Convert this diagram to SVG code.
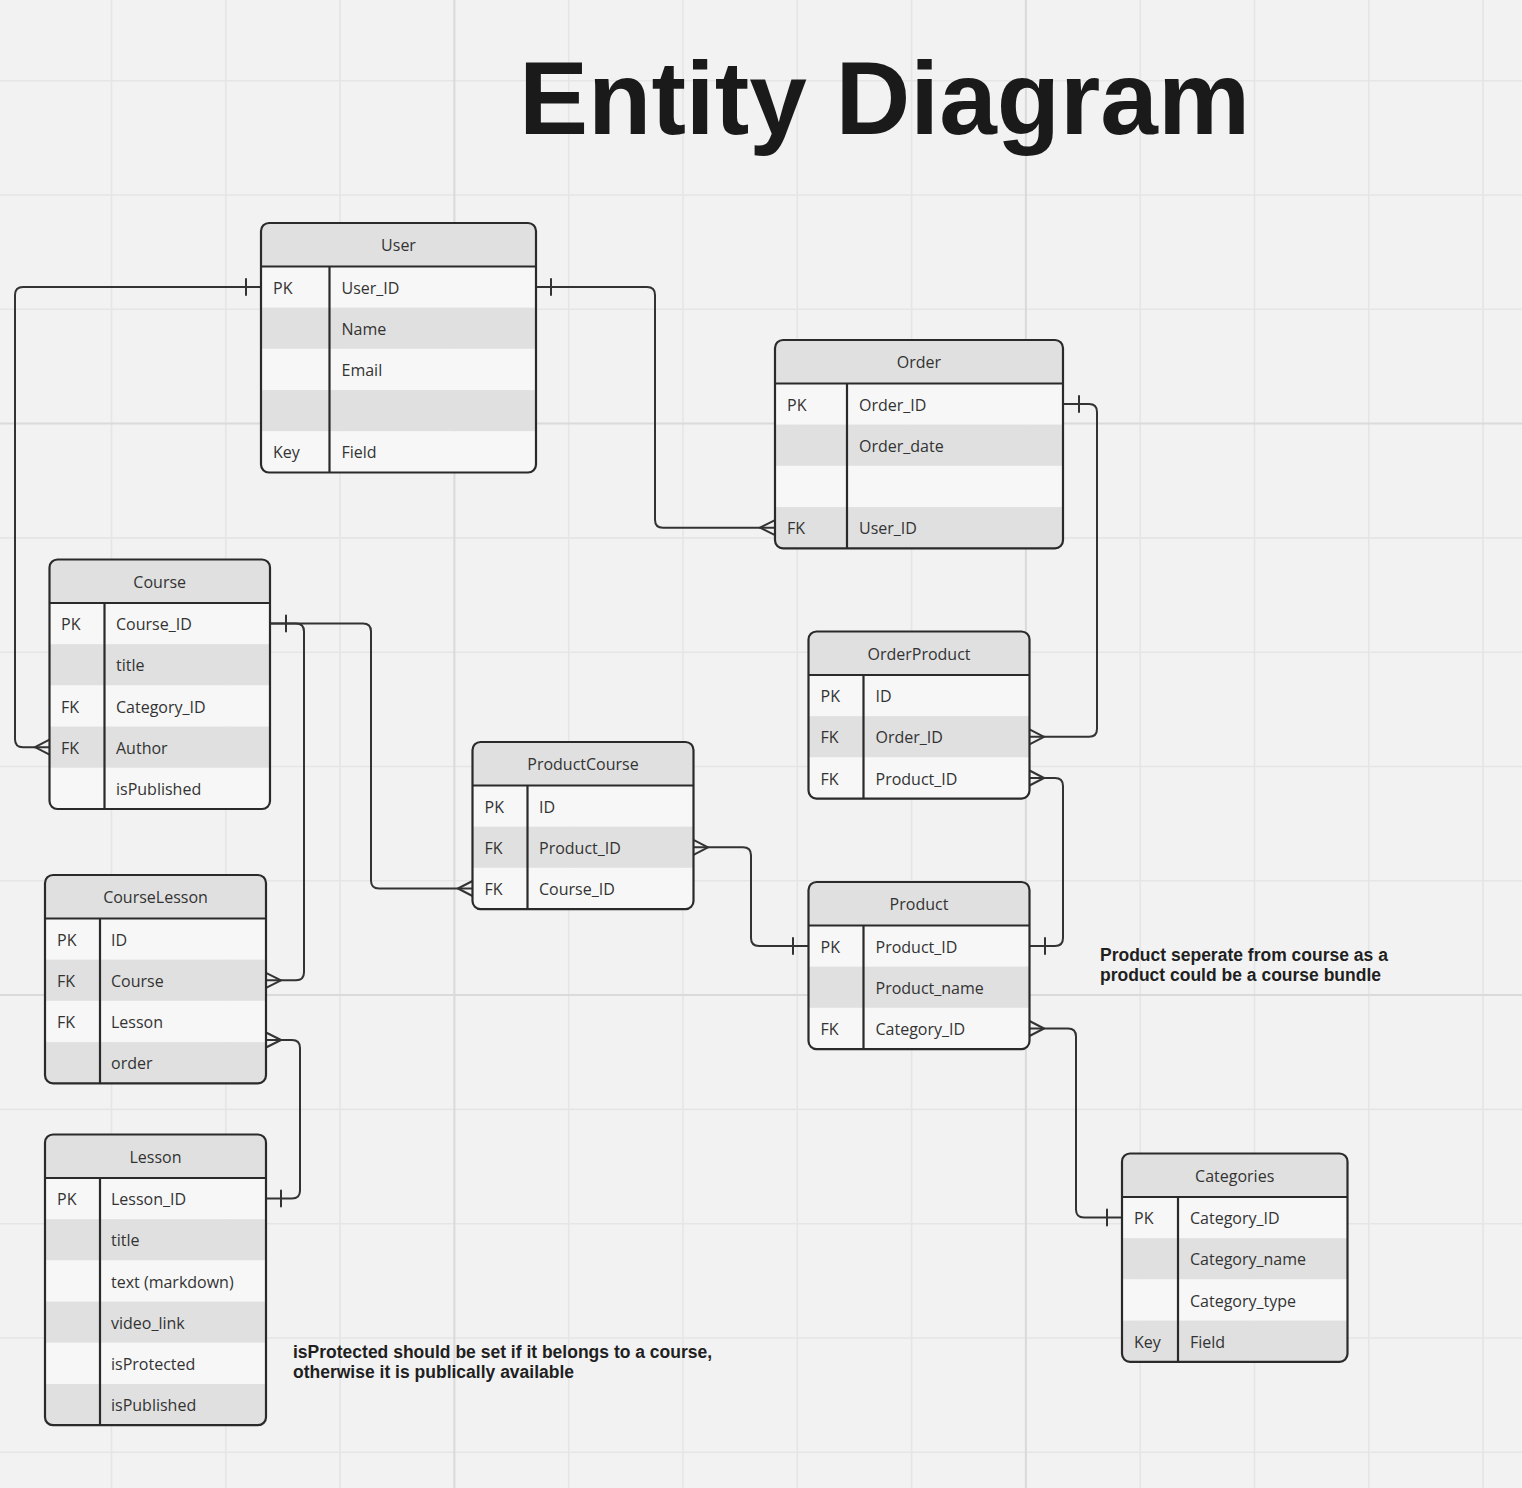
<svg xmlns="http://www.w3.org/2000/svg" width="1522" height="1488" viewBox="0 0 1522 1488">
<style>
.bg{fill:#f2f2f2}
.gmin{stroke:#e5e5e5;stroke-width:1.6;fill:none}
.gmaj{stroke:#dadada;stroke-width:2;fill:none}
.hd{fill:#e0e0e0}
.lt{fill:#f7f7f7}
.dk{fill:#e0e0e0}
.ol{fill:none;stroke:#2a2a2a;stroke-width:2.2}
.ln{stroke:#2a2a2a;stroke-width:2.2;fill:none}
.t{font-family:"Open Sans","Noto Sans","Liberation Sans",sans-serif;font-size:16px;fill:#333333;transform:translateY(1px)}
.th{font-family:"Open Sans","Noto Sans","Liberation Sans",sans-serif;font-size:16px;fill:#333333;text-anchor:middle;transform:translateY(1px)}
.title{font-family:"Liberation Sans",Arial,sans-serif;font-weight:bold;font-size:103.6px;fill:#1a1a1a}
.note{font-family:"Liberation Sans",Arial,sans-serif;font-weight:bold;font-size:17.5px;fill:#1f1f1f}
.c{stroke:#333333;stroke-width:2;fill:none;stroke-linecap:round;stroke-linejoin:round}
</style>
<defs>
<clipPath id="cUser"><rect x="261" y="223" width="275" height="249.5" rx="8"/></clipPath>
<clipPath id="cOrder"><rect x="775" y="340" width="288" height="208.3" rx="8"/></clipPath>
<clipPath id="cCourse"><rect x="49.5" y="559.5" width="220.5" height="249.5" rx="8"/></clipPath>
<clipPath id="cCL"><rect x="45" y="875" width="221" height="208.3" rx="8"/></clipPath>
<clipPath id="cLesson"><rect x="45" y="1134.5" width="221" height="290.7" rx="8"/></clipPath>
<clipPath id="cPC"><rect x="472.5" y="742" width="221" height="167.1" rx="8"/></clipPath>
<clipPath id="cOP"><rect x="808.5" y="631.5" width="221" height="167.1" rx="8"/></clipPath>
<clipPath id="cProd"><rect x="808.5" y="882" width="221" height="167.1" rx="8"/></clipPath>
<clipPath id="cCat"><rect x="1122" y="1153.5" width="225.5" height="208.3" rx="8"/></clipPath>
</defs>

<g id="background">
<rect class="bg" x="0" y="0" width="1522" height="1488"/>
<path class="gmin" d="M111.5,0V1488M225.8,0V1488M340.1,0V1488M568.7,0V1488M683,0V1488M797.3,0V1488M911.6,0V1488M1140.2,0V1488M1254.5,0V1488M1368.8,0V1488M1483.1,0V1488"/>
<path class="gmin" d="M0,80.7H1522M0,195H1522M0,309.3H1522M0,537.9H1522M0,652.2H1522M0,766.5H1522M0,880.8H1522M0,1109.4H1522M0,1223.7H1522M0,1338H1522M0,1452.3H1522"/>
<path class="gmaj" d="M454.4,0V1488M1025.9,0V1488M0,423.6H1522M0,995.1H1522"/>
</g>

<text id="title" class="title" x="519" y="134">Entity Diagram</text>

<g id="connectors">
<path class="c" d="M261,287.1H23Q15,287.1 15,295.1V739.2Q15,747.2 23,747.2H49.5"/>
<path class="c" d="M246,279.1V295.1M35,747.2L49.5,739.7M35,747.2L49.5,754.7"/>
<path class="c" d="M536,287.1H647Q655,287.1 655,295.1V519.7Q655,527.7 663,527.7H775"/>
<path class="c" d="M551,279.1V295.1M760,527.7L775,520.2M760,527.7L775,535.2"/>
<path class="c" d="M1063,404.1H1089Q1097,404.1 1097,412.1V728.8Q1097,736.8 1089,736.8H1029.5"/>
<path class="c" d="M1079,396.1V412.1M1044,736.8L1029.5,729.3M1044,736.8L1029.5,744.3"/>
<path class="c" d="M1029.5,946.1H1055Q1063,946.1 1063,938.1V786Q1063,778 1055,778H1029.5"/>
<path class="c" d="M1045,938.1V954.1M1044,778L1029.5,770.5M1044,778L1029.5,785.5"/>
<path class="c" d="M808.5,946.1H759Q751,946.1 751,938.1V855.3Q751,847.3 743,847.3H693.5"/>
<path class="c" d="M793,938.1V954.1M708,847.3L693.5,839.8M708,847.3L693.5,854.8"/>
<path class="c" d="M270,623.6H363Q371,623.6 371,631.6V880.5Q371,888.5 379,888.5H472.5"/>
<path class="c" d="M286,615.6V631.6M458,888.5L472.5,881M458,888.5L472.5,896"/>
<path class="c" d="M270,623.6H296Q304,623.6 304,631.6V972.3Q304,980.3 296,980.3H266"/>
<path class="c" d="M281,980.3L266,972.8M281,980.3L266,987.8"/>
<path class="c" d="M266,1198.6H292Q300,1198.6 300,1190.6V1048Q300,1040 292,1040H266"/>
<path class="c" d="M281,1190.6V1206.6M281,1040L266,1032.5M281,1040L266,1047.5"/>
<path class="c" d="M1122,1217.6H1084Q1076,1217.6 1076,1209.6V1036.5Q1076,1028.5 1068,1028.5H1029.5"/>
<path class="c" d="M1107,1209.6V1225.6M1044,1028.5L1029.5,1021M1044,1028.5L1029.5,1036"/>
</g>

<g id="User">
<g clip-path="url(#cUser)">
<rect class="hd" x="261" y="223" width="275" height="43.5"/>
<rect class="lt" x="261" y="266.5" width="275" height="41.2"/>
<rect class="dk" x="261" y="307.7" width="275" height="41.2"/>
<rect class="lt" x="261" y="348.9" width="275" height="41.2"/>
<rect class="dk" x="261" y="390.1" width="275" height="41.2"/>
<rect class="lt" x="261" y="431.3" width="275" height="41.2"/>
</g>
<rect class="ol" x="261" y="223" width="275" height="249.5" rx="8"/>
<path class="ln" d="M261,266.5H536M329.5,266.5V472.5"/>
<text class="th" x="398.5" y="250.3">User</text>
<text class="t" x="273" y="292.6">PK</text><text class="t" x="341.5" y="292.6">User_ID</text>
<text class="t" x="341.5" y="333.8">Name</text>
<text class="t" x="341.5" y="375">Email</text>
<text class="t" x="273" y="457.4">Key</text><text class="t" x="341.5" y="457.4">Field</text>
</g>

<g id="Order">
<g clip-path="url(#cOrder)">
<rect class="hd" x="775" y="340" width="288" height="43.5"/>
<rect class="lt" x="775" y="383.5" width="288" height="41.2"/>
<rect class="dk" x="775" y="424.7" width="288" height="41.2"/>
<rect class="lt" x="775" y="465.9" width="288" height="41.2"/>
<rect class="dk" x="775" y="507.1" width="288" height="41.2"/>
</g>
<rect class="ol" x="775" y="340" width="288" height="208.3" rx="8"/>
<path class="ln" d="M775,383.5H1063M847,383.5V548.3"/>
<text class="th" x="919" y="367.3">Order</text>
<text class="t" x="787" y="409.6">PK</text><text class="t" x="859" y="409.6">Order_ID</text>
<text class="t" x="859" y="450.8">Order_date</text>
<text class="t" x="787" y="533.2">FK</text><text class="t" x="859" y="533.2">User_ID</text>
</g>

<g id="Course">
<g clip-path="url(#cCourse)">
<rect class="hd" x="49.5" y="559.5" width="220.5" height="43.5"/>
<rect class="lt" x="49.5" y="603" width="220.5" height="41.2"/>
<rect class="dk" x="49.5" y="644.2" width="220.5" height="41.2"/>
<rect class="lt" x="49.5" y="685.4" width="220.5" height="41.2"/>
<rect class="dk" x="49.5" y="726.6" width="220.5" height="41.2"/>
<rect class="lt" x="49.5" y="767.8" width="220.5" height="41.2"/>
</g>
<rect class="ol" x="49.5" y="559.5" width="220.5" height="249.5" rx="8"/>
<path class="ln" d="M49.5,603H270M104.5,603V809"/>
<text class="th" x="159.7" y="586.8">Course</text>
<text class="t" x="61" y="629.1">PK</text><text class="t" x="116" y="629.1">Course_ID</text>
<text class="t" x="116" y="670.3">title</text>
<text class="t" x="61" y="711.5">FK</text><text class="t" x="116" y="711.5">Category_ID</text>
<text class="t" x="61" y="752.7">FK</text><text class="t" x="116" y="752.7">Author</text>
<text class="t" x="116" y="793.9">isPublished</text>
</g>

<g id="CourseLesson">
<g clip-path="url(#cCL)">
<rect class="hd" x="45" y="875" width="221" height="43.5"/>
<rect class="lt" x="45" y="918.5" width="221" height="41.2"/>
<rect class="dk" x="45" y="959.7" width="221" height="41.2"/>
<rect class="lt" x="45" y="1000.9" width="221" height="41.2"/>
<rect class="dk" x="45" y="1042.1" width="221" height="41.2"/>
</g>
<rect class="ol" x="45" y="875" width="221" height="208.3" rx="8"/>
<path class="ln" d="M45,918.5H266M100,918.5V1083.3"/>
<text class="th" x="155.5" y="902.3">CourseLesson</text>
<text class="t" x="57" y="944.6">PK</text><text class="t" x="111" y="944.6">ID</text>
<text class="t" x="57" y="985.8">FK</text><text class="t" x="111" y="985.8">Course</text>
<text class="t" x="57" y="1027">FK</text><text class="t" x="111" y="1027">Lesson</text>
<text class="t" x="111" y="1068.2">order</text>
</g>

<g id="Lesson">
<g clip-path="url(#cLesson)">
<rect class="hd" x="45" y="1134.5" width="221" height="43.5"/>
<rect class="lt" x="45" y="1178" width="221" height="41.2"/>
<rect class="dk" x="45" y="1219.2" width="221" height="41.2"/>
<rect class="lt" x="45" y="1260.4" width="221" height="41.2"/>
<rect class="dk" x="45" y="1301.6" width="221" height="41.2"/>
<rect class="lt" x="45" y="1342.8" width="221" height="41.2"/>
<rect class="dk" x="45" y="1384" width="221" height="41.2"/>
</g>
<rect class="ol" x="45" y="1134.5" width="221" height="290.7" rx="8"/>
<path class="ln" d="M45,1178H266M100,1178V1425.2"/>
<text class="th" x="155.5" y="1161.8">Lesson</text>
<text class="t" x="57" y="1204.1">PK</text><text class="t" x="111" y="1204.1">Lesson_ID</text>
<text class="t" x="111" y="1245.3">title</text>
<text class="t" x="111" y="1286.5">text (markdown)</text>
<text class="t" x="111" y="1327.7">video_link</text>
<text class="t" x="111" y="1368.9">isProtected</text>
<text class="t" x="111" y="1410.1">isPublished</text>
</g>

<g id="ProductCourse">
<g clip-path="url(#cPC)">
<rect class="hd" x="472.5" y="742" width="221" height="43.5"/>
<rect class="lt" x="472.5" y="785.5" width="221" height="41.2"/>
<rect class="dk" x="472.5" y="826.7" width="221" height="41.2"/>
<rect class="lt" x="472.5" y="867.9" width="221" height="41.2"/>
</g>
<rect class="ol" x="472.5" y="742" width="221" height="167.1" rx="8"/>
<path class="ln" d="M472.5,785.5H693.5M527.5,785.5V909.1"/>
<text class="th" x="583" y="769.3">ProductCourse</text>
<text class="t" x="484.5" y="811.6">PK</text><text class="t" x="539" y="811.6">ID</text>
<text class="t" x="484.5" y="852.8">FK</text><text class="t" x="539" y="852.8">Product_ID</text>
<text class="t" x="484.5" y="894">FK</text><text class="t" x="539" y="894">Course_ID</text>
</g>

<g id="OrderProduct">
<g clip-path="url(#cOP)">
<rect class="hd" x="808.5" y="631.5" width="221" height="43.5"/>
<rect class="lt" x="808.5" y="675" width="221" height="41.2"/>
<rect class="dk" x="808.5" y="716.2" width="221" height="41.2"/>
<rect class="lt" x="808.5" y="757.4" width="221" height="41.2"/>
</g>
<rect class="ol" x="808.5" y="631.5" width="221" height="167.1" rx="8"/>
<path class="ln" d="M808.5,675H1029.5M863.5,675V798.6"/>
<text class="th" x="919" y="658.8">OrderProduct</text>
<text class="t" x="820.5" y="701.1">PK</text><text class="t" x="875.5" y="701.1">ID</text>
<text class="t" x="820.5" y="742.3">FK</text><text class="t" x="875.5" y="742.3">Order_ID</text>
<text class="t" x="820.5" y="783.5">FK</text><text class="t" x="875.5" y="783.5">Product_ID</text>
</g>

<g id="Product">
<g clip-path="url(#cProd)">
<rect class="hd" x="808.5" y="882" width="221" height="43.5"/>
<rect class="lt" x="808.5" y="925.5" width="221" height="41.2"/>
<rect class="dk" x="808.5" y="966.7" width="221" height="41.2"/>
<rect class="lt" x="808.5" y="1007.9" width="221" height="41.2"/>
</g>
<rect class="ol" x="808.5" y="882" width="221" height="167.1" rx="8"/>
<path class="ln" d="M808.5,925.5H1029.5M863.5,925.5V1049.1"/>
<text class="th" x="919" y="909.3">Product</text>
<text class="t" x="820.5" y="951.6">PK</text><text class="t" x="875.5" y="951.6">Product_ID</text>
<text class="t" x="875.5" y="992.8">Product_name</text>
<text class="t" x="820.5" y="1034">FK</text><text class="t" x="875.5" y="1034">Category_ID</text>
</g>

<g id="Categories">
<g clip-path="url(#cCat)">
<rect class="hd" x="1122" y="1153.5" width="225.5" height="43.5"/>
<rect class="lt" x="1122" y="1197" width="225.5" height="41.2"/>
<rect class="dk" x="1122" y="1238.2" width="225.5" height="41.2"/>
<rect class="lt" x="1122" y="1279.4" width="225.5" height="41.2"/>
<rect class="dk" x="1122" y="1320.6" width="225.5" height="41.2"/>
</g>
<rect class="ol" x="1122" y="1153.5" width="225.5" height="208.3" rx="8"/>
<path class="ln" d="M1122,1197H1347.5M1178,1197V1361.8"/>
<text class="th" x="1234.7" y="1181.3">Categories</text>
<text class="t" x="1134" y="1223.1">PK</text><text class="t" x="1190" y="1223.1">Category_ID</text>
<text class="t" x="1190" y="1264.3">Category_name</text>
<text class="t" x="1190" y="1305.5">Category_type</text>
<text class="t" x="1134" y="1346.7">Key</text><text class="t" x="1190" y="1346.7">Field</text>
</g>

<g id="note-product">
<text class="note" x="1100" y="961">Product seperate from course as a</text>
<text class="note" x="1100" y="981">product could be a course bundle</text>
</g>
<g id="note-lesson">
<text class="note" x="293" y="1358">isProtected should be set if it belongs to a course,</text>
<text class="note" x="293" y="1378">otherwise it is publically available</text>
</g>
</svg>
